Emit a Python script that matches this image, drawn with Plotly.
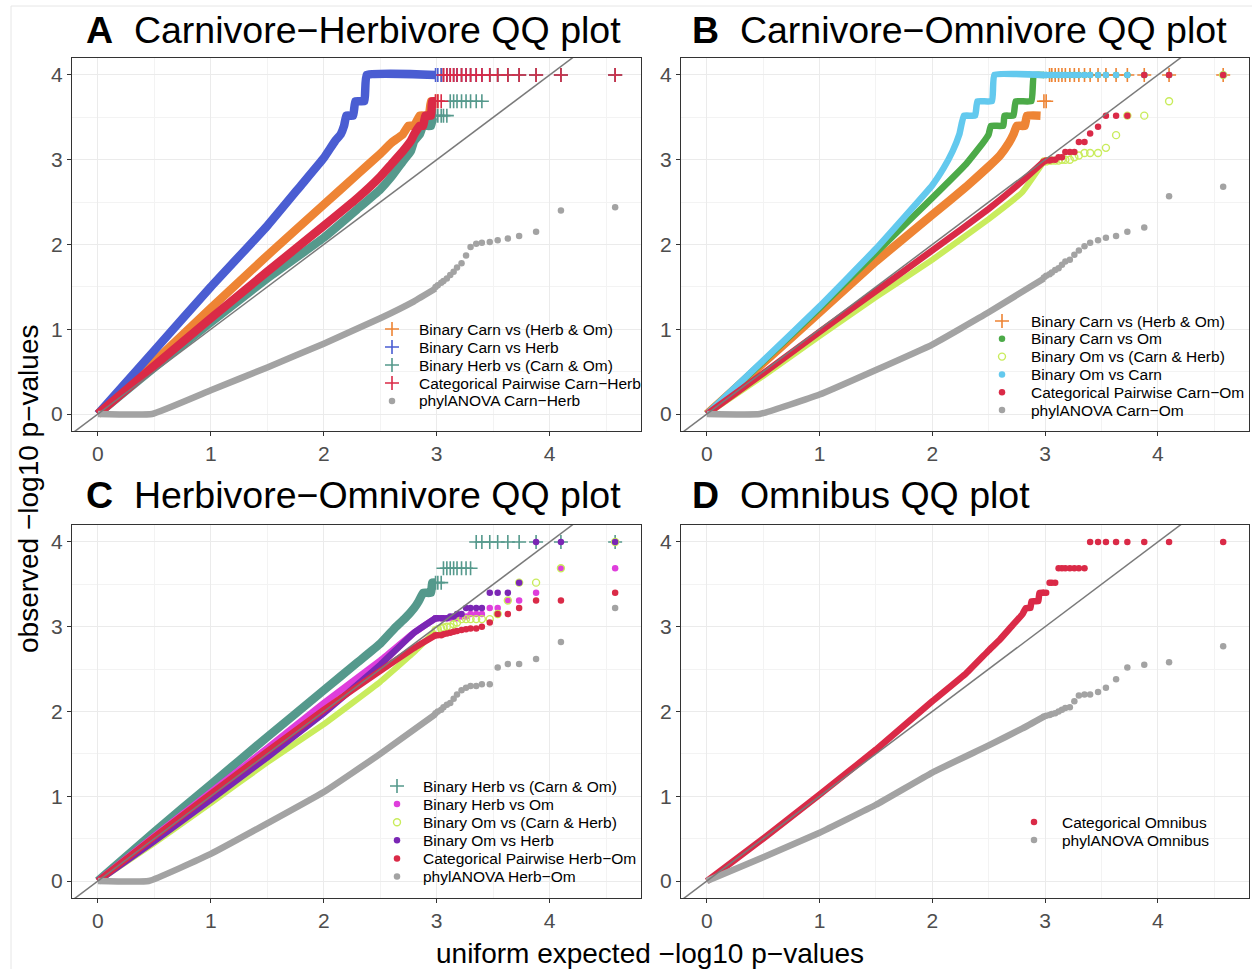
import plotly.graph_objects as go

W, H = 1252, 969
FONT = "Liberation Sans, Arial, Helvetica, sans-serif"

# Expected -log10 p-values of the highest ranks (rank 1 = most extreme)
rank_x = [4.58, 4.10, 3.88, 3.73, 3.63, 3.54, 3.47, 3.40, 3.35, 3.30,
          3.26, 3.22, 3.18, 3.15, 3.12, 3.09, 3.06, 3.04, 3.01, 2.99]

# ---------------- Panel A: Carnivore-Herbivore ----------------
A_cvho_x = [0, 0.5, 1, 1.5, 2, 2.3, 2.5, 2.6, 2.7, 2.75, 2.8, 2.85, 2.93, 2.95, 2.98]
A_cvho_y = [0, 0.62, 1.25, 1.87, 2.47, 2.83, 3.07, 3.2, 3.3, 3.4, 3.4, 3.52, 3.52, 3.69, 3.69]
A_cvho_top = [4, 4, 4, 4, 4, 4, 4, 4, 4, 4, 4, 4, 4, 4, 4, 4, 4, 4, 3.69, 3.69]

A_cvh_x = [0, 0.5, 1, 1.5, 1.8, 2.0, 2.1, 2.15, 2.18, 2.2, 2.26, 2.28, 2.36, 2.38, 2.99]
A_cvh_y = [0, 0.75, 1.5, 2.22, 2.7, 3.02, 3.22, 3.3, 3.4, 3.52, 3.52, 3.69, 3.69, 4, 4]
A_cvh_top = [4, 4, 4, 4, 4, 4, 4, 4, 4, 4, 4, 4, 4, 4, 4, 4, 4, 4, 4, 4]

A_hvco_x = [0, 0.5, 1, 1.5, 2, 2.3, 2.5, 2.6, 2.7, 2.77, 2.8, 2.85, 2.88, 2.95, 2.97, 2.99]
A_hvco_y = [0, 0.55, 1.08, 1.6, 2.08, 2.42, 2.65, 2.8, 2.98, 3.1, 3.22, 3.3, 3.4, 3.4, 3.52, 3.52]
A_hvco_top = [4, 4, 4, 4, 4, 4, 4, 3.69, 3.69, 3.69, 3.69, 3.69, 3.69, 3.69, 3.69,
              3.52, 3.52, 3.52, 3.52, 3.52]

A_cat_x = [0, 0.5, 1, 1.5, 2, 2.3, 2.5, 2.6, 2.7, 2.77, 2.8, 2.85, 2.88, 2.9, 2.95, 2.96, 2.99]
A_cat_y = [0, 0.57, 1.13, 1.68, 2.22, 2.55, 2.8, 2.95, 3.1, 3.22, 3.3, 3.4, 3.4, 3.52, 3.52, 3.69, 3.69]
A_cat_top = [4, 4, 4, 4, 4, 4, 4, 4, 4, 4, 4, 4, 4, 4, 4, 4, 4, 3.69, 3.69, 3.69]

A_phy_x = [0, 0.48, 1, 1.5, 2, 2.5, 2.8, 2.99]
A_phy_y = [0, 0, 0.28, 0.55, 0.83, 1.13, 1.33, 1.48]
A_phy_top = [2.44, 2.40, 2.15, 2.10, 2.07, 2.05, 2.03, 2.02, 2.01, 1.97,
             1.87, 1.78, 1.73, 1.68, 1.64, 1.60, 1.57, 1.55, 1.52, 1.50]

# ---------------- Panel B: Carnivore-Omnivore ----------------
B_cvho_x = [0, 0.5, 1, 1.5, 2, 2.3, 2.5, 2.6, 2.68, 2.72, 2.75, 2.82, 2.84, 2.96]
B_cvho_y = [0, 0.6, 1.2, 1.8, 2.35, 2.68, 2.92, 3.05, 3.2, 3.3, 3.4, 3.4, 3.52, 3.52]
B_cvho_top = [4, 4, 4, 4, 4, 4, 4, 4, 4, 4, 4, 4, 4, 4, 4, 4, 4, 4, 3.69, 3.69]

B_cvo_x = [0, 0.5, 1, 1.5, 2, 2.3, 2.45, 2.5, 2.52, 2.63, 2.64, 2.72, 2.74, 2.88, 2.9, 2.99]
B_cvo_y = [0, 0.62, 1.25, 1.9, 2.55, 2.95, 3.2, 3.3, 3.4, 3.4, 3.52, 3.52, 3.69, 3.69, 4, 4]
B_cvo_top = [4, 4, 4, 4, 4, 4, 4, 4, 4, 4, 4, 4, 4, 4, 4, 4, 4, 4, 4, 4]

B_ovch_x = [0, 0.5, 1, 1.5, 2, 2.5, 2.8, 2.99]
B_ovch_y = [0, 0.45, 0.92, 1.38, 1.82, 2.3, 2.62, 2.98]
B_ovch_top = [4, 3.69, 3.52, 3.52, 3.29, 3.14, 3.08, 3.08, 3.08, 3.05,
              3.03, 3.0, 3.0, 3.0, 2.99, 2.99, 2.99, 2.99, 2.98, 2.98]

B_ovc_x = [0, 0.5, 1, 1.5, 2, 2.1, 2.18, 2.24, 2.28, 2.38, 2.4, 2.53, 2.55, 2.99]
B_ovc_y = [0, 0.63, 1.27, 1.95, 2.7, 2.9, 3.1, 3.3, 3.52, 3.52, 3.69, 3.69, 4, 4]
B_ovc_top = [4, 4, 4, 4, 4, 4, 4, 4, 4, 4, 4, 4, 4, 4, 4, 4, 4, 4, 4, 4]

B_cat_x = [0, 0.5, 1, 1.5, 2, 2.5, 2.8, 2.99]
B_cat_y = [0, 0.48, 0.97, 1.45, 1.93, 2.42, 2.75, 2.98]
B_cat_top = [4, 4, 4, 3.52, 3.52, 3.52, 3.39, 3.31, 3.21, 3.21,
             3.09, 3.09, 3.09, 3.03, 3.03, 3.0, 3.0, 2.99, 2.99, 2.98]

B_phy_x = [0, 0.47, 1, 1.5, 2, 2.5, 2.99]
B_phy_y = [0, 0, 0.23, 0.52, 0.82, 1.2, 1.6]
B_phy_top = [2.68, 2.57, 2.20, 2.15, 2.10, 2.08, 2.05, 2.02, 1.98, 1.93,
             1.88, 1.82, 1.80, 1.76, 1.72, 1.70, 1.67, 1.65, 1.63, 1.61]

# ---------------- Panel C: Herbivore-Omnivore ----------------
C_hvco_x = [0, 0.5, 1, 1.5, 2, 2.3, 2.5, 2.64, 2.72, 2.8, 2.84, 2.88, 2.95, 2.96, 2.99]
C_hvco_y = [0, 0.58, 1.14, 1.7, 2.25, 2.58, 2.8, 3.0, 3.1, 3.22, 3.3, 3.4, 3.4, 3.52, 3.52]
C_hvco_top = [4, 4, 4, 4, 4, 4, 4, 4, 4, 3.69, 3.69, 3.69, 3.69, 3.69, 3.69, 3.69, 3.69,
              3.52, 3.52, 3.52]

C_hvo_x = [0, 0.5, 1, 1.5, 2, 2.5, 2.8, 2.99]
C_hvo_y = [0, 0.53, 1.05, 1.57, 2.1, 2.6, 2.93, 3.1]
C_hvo_top = [3.69, 3.69, 3.4, 3.31, 3.31, 3.22, 3.22, 3.15, 3.15, 3.15,
             3.12, 3.12, 3.1, 3.1, 3.1, 3.1, 3.1, 3.1, 3.1, 3.1]

C_ovch_x = [0, 0.5, 1, 1.5, 2, 2.5, 2.8, 2.99]
C_ovch_y = [0, 0.45, 0.92, 1.4, 1.85, 2.35, 2.7, 2.95]
C_ovch_top = [4, 3.69, 3.52, 3.52, 3.31, 3.15, 3.09, 3.09, 3.09, 3.09,
              3.09, 3.09, 3.05, 3.03, 3.0, 3.0, 2.99, 2.98, 2.97, 2.96]

C_ovh_x = [0, 0.5, 1, 1.5, 2, 2.5, 2.8, 2.99]
C_ovh_y = [0, 0.47, 0.96, 1.46, 1.98, 2.55, 2.93, 3.1]
C_ovh_top = [4, 4, 4, 3.52, 3.4, 3.4, 3.4, 3.22, 3.22, 3.22,
             3.22, 3.15, 3.15, 3.12, 3.12, 3.1, 3.1, 3.1, 3.1, 3.1]

C_cat_x = [0, 0.5, 1, 1.5, 2, 2.5, 2.8, 2.99]
C_cat_y = [0, 0.52, 1.03, 1.53, 2.02, 2.48, 2.75, 2.9]
C_cat_top = [3.4, 3.31, 3.31, 3.22, 3.15, 3.15, 3.05, 3.0, 2.98, 2.98,
             2.97, 2.96, 2.95, 2.94, 2.93, 2.92, 2.91, 2.9, 2.9, 2.9]

C_phy_x = [0, 0.45, 1, 1.5, 2, 2.5, 2.99]
C_phy_y = [0, 0, 0.32, 0.68, 1.05, 1.5, 1.97]
C_phy_top = [3.22, 2.82, 2.62, 2.56, 2.56, 2.52, 2.32, 2.32, 2.30, 2.30,
             2.28, 2.25, 2.20, 2.15, 2.10, 2.08, 2.05, 2.02, 2.00, 1.98]

# ---------------- Panel D: Omnibus ----------------
D_cat_x = [0, 0.5, 1, 1.5, 2, 2.3, 2.5, 2.6, 2.7, 2.8, 2.83, 2.87, 2.88, 2.94, 2.95, 2.99]
D_cat_y = [0, 0.5, 1.02, 1.55, 2.12, 2.45, 2.72, 2.85, 3.0, 3.15, 3.22, 3.22, 3.3, 3.3, 3.4, 3.4]
D_cat_top = [4, 4, 4, 4, 4, 4, 4, 4, 3.69, 3.69, 3.69, 3.69, 3.69, 3.69, 3.69,
             3.52, 3.52, 3.52, 3.4, 3.4]

D_phy_x = [0, 0.5, 1, 1.5, 2, 2.5, 2.8, 2.99]
D_phy_y = [0, 0.28, 0.57, 0.9, 1.28, 1.6, 1.8, 1.94]
D_phy_top = [2.77, 2.58, 2.55, 2.52, 2.38, 2.28, 2.23, 2.20, 2.20, 2.19,
             2.12, 2.05, 2.04, 2.02, 2.00, 1.98, 1.97, 1.96, 1.95, 1.94]

# ---------------- styles ----------------
ORANGE, BLUE, TEAL, RED, GRAY = "#EE8434", "#4A5DD2", "#55998C", "#DA2A47", "#A3A3A3"
GREEN, LIME, SKY, MAGENTA, PURPLE = "#4CAA48", "#C9EC5C", "#63C9EE", "#DF3EDC", "#7A26B4"

PLUS, DOT, RING = "plus", "dot", "ring"

panels = {
    "A": dict(title="Carnivore\u2212Herbivore QQ plot", series=[
        ("Binary Carn vs (Herb & Om)", ORANGE, PLUS, A_cvho_x, A_cvho_y, A_cvho_top),
        ("Binary Carn vs Herb", BLUE, PLUS, A_cvh_x, A_cvh_y, A_cvh_top),
        ("Binary Herb vs (Carn & Om)", TEAL, PLUS, A_hvco_x, A_hvco_y, A_hvco_top),
        ("Categorical Pairwise Carn\u2212Herb", RED, PLUS, A_cat_x, A_cat_y, A_cat_top),
        ("phylANOVA Carn\u2212Herb", GRAY, DOT, A_phy_x, A_phy_y, A_phy_top),
    ]),
    "B": dict(title="Carnivore\u2212Omnivore QQ plot", series=[
        ("Binary Carn vs (Herb & Om)", ORANGE, PLUS, B_cvho_x, B_cvho_y, B_cvho_top),
        ("Binary Carn vs Om", GREEN, DOT, B_cvo_x, B_cvo_y, B_cvo_top),
        ("Binary Om vs (Carn & Herb)", LIME, RING, B_ovch_x, B_ovch_y, B_ovch_top),
        ("Binary Om vs Carn", SKY, DOT, B_ovc_x, B_ovc_y, B_ovc_top),
        ("Categorical Pairwise Carn\u2212Om", RED, DOT, B_cat_x, B_cat_y, B_cat_top),
        ("phylANOVA Carn\u2212Om", GRAY, DOT, B_phy_x, B_phy_y, B_phy_top),
    ]),
    "C": dict(title="Herbivore\u2212Omnivore QQ plot", series=[
        ("Binary Herb vs (Carn & Om)", TEAL, PLUS, C_hvco_x, C_hvco_y, C_hvco_top),
        ("Binary Herb vs Om", MAGENTA, DOT, C_hvo_x, C_hvo_y, C_hvo_top),
        ("Binary Om vs (Carn & Herb)", LIME, RING, C_ovch_x, C_ovch_y, C_ovch_top),
        ("Binary Om vs Herb", PURPLE, DOT, C_ovh_x, C_ovh_y, C_ovh_top),
        ("Categorical Pairwise Herb\u2212Om", RED, DOT, C_cat_x, C_cat_y, C_cat_top),
        ("phylANOVA Herb\u2212Om", GRAY, DOT, C_phy_x, C_phy_y, C_phy_top),
    ]),
    "D": dict(title="Omnibus QQ plot", series=[
        ("Categorical Omnibus", RED, DOT, D_cat_x, D_cat_y, D_cat_top),
        ("phylANOVA Omnibus", GRAY, DOT, D_phy_x, D_phy_y, D_phy_top),
    ]),
}

# panel boxes in pixels: left, right, top, bottom
boxes = {"A": (72, 641, 58, 431), "B": (681, 1249, 58, 431),
         "C": (72, 641, 525, 898), "D": (681, 1249, 525, 898)}
axis_ids = {"A": ("x", "y"), "B": ("x2", "y2"), "C": ("x3", "y3"), "D": ("x4", "y4")}
title_pos = {"A": (84, 30), "B": (690, 30), "C": (84, 495), "D": (690, 495)}
# legend: key x, text x, first row y, row step
legend_pos = {"A": (392, 417, 329, 18.0), "B": (1002, 1029, 321, 17.8),
              "C": (397, 421, 786, 18.1), "D": (1034, 1060, 822, 18.0)}

X_RANGE = [-0.229, 4.809]
Y_RANGE = [-0.2, 4.2]


def marker_style(color, kind):
    if kind == PLUS:
        return dict(symbol="cross-thin", size=10, color=color, line=dict(color=color, width=1.6))
    if kind == RING:
        return dict(symbol="circle-open", size=7, color=color, line=dict(color=color, width=1.4))
    return dict(symbol="circle", size=6.5, color=color, line=dict(width=0))


fig = go.Figure()
annotations = []

for key, panel in panels.items():
    xa, ya = axis_ids[key]
    for name, color, kind, bx, by, top in panel["series"]:
        band = 8.5 if kind == PLUS else (6.5 if kind == DOT else 6)
        fig.add_trace(go.Scatter(x=bx, y=by, xaxis=xa, yaxis=ya, mode="lines",
                                 line=dict(color=color, width=band, shape="spline",
                                           smoothing=0.3),
                                 showlegend=False, hoverinfo="skip"))
        fig.add_trace(go.Scatter(x=rank_x, y=top, xaxis=xa, yaxis=ya, mode="markers",
                                 marker=marker_style(color, kind), showlegend=False,
                                 name=name))
    # y = x reference line
    fig.add_trace(go.Scatter(x=X_RANGE, y=X_RANGE, xaxis=xa, yaxis=ya, mode="lines",
                             line=dict(color="#7A7A7A", width=1.5), showlegend=False,
                             hoverinfo="skip"))

    # legend keys (pixel overlay) and labels
    kx, tx, y0, step = legend_pos[key]
    keys_y = [y0 + i * step for i in range(len(panel["series"]))]
    for (name, color, kind, *_), ky in zip(panel["series"], keys_y):
        fig.add_trace(go.Scatter(x=[kx], y=[ky], xaxis="x5", yaxis="y5", mode="markers",
                                 marker=marker_style(color, kind), showlegend=False,
                                 hoverinfo="skip"))
        annotations.append(dict(x=tx / W, y=1 - ky / H, xref="paper", yref="paper",
                                text=name, showarrow=False, xanchor="left", yanchor="middle",
                                font=dict(family=FONT, size=15.5, color="#000000")))

    px, py = title_pos[key]
    annotations.append(dict(x=px / W, y=1 - py / H, xref="paper", yref="paper",
                            text=f"<b>{key}</b>\u00a0\u00a0{panel['title']}", showarrow=False,
                            xanchor="left", yanchor="middle",
                            font=dict(family=FONT, size=37.5, color="#000000")))

annotations.append(dict(x=649.5 / W, y=1 - 953 / H, xref="paper", yref="paper",
                        text="uniform expected \u2212log10 p\u2212values", showarrow=False,
                        xanchor="center", yanchor="middle",
                        font=dict(family=FONT, size=28, color="#000000")))
annotations.append(dict(x=28 / W, y=1 - 489 / H, xref="paper", yref="paper",
                        text="observed \u2212log10 p\u2212values", showarrow=False, textangle=-90,
                        xanchor="center", yanchor="middle",
                        font=dict(family=FONT, size=28, color="#000000")))

layout = dict(width=W, height=H, margin=dict(l=0, r=0, t=0, b=0),
              paper_bgcolor="white", plot_bgcolor="rgba(0,0,0,0)", showlegend=False,
              annotations=annotations,
              shapes=[dict(type="rect", xref="paper", yref="paper",
                           x0=11 / W, x1=1.01, y0=-0.01, y1=1 - 6 / H,
                           line=dict(color="#E6E6E6", width=1), layer="below")])

axis_common = dict(showline=True, mirror=True, linecolor="#333333", linewidth=1,
                   ticks="outside", ticklen=4, tickcolor="#333333", tickwidth=1,
                   tickfont=dict(family=FONT, size=21, color="#4D4D4D"),
                   showgrid=True, gridcolor="#EBEBEB", gridwidth=1.2, zeroline=False,
                   tickvals=[0, 1, 2, 3, 4], automargin=False,
                   minor=dict(tickvals=[0.5, 1.5, 2.5, 3.5, 4.5], showgrid=True,
                              gridcolor="#F3F3F3", gridwidth=0.8, ticks=""))

for key, (l, r, t, b) in boxes.items():
    xa, ya = axis_ids[key]
    xname = "xaxis" + xa[1:]
    yname = "yaxis" + ya[1:]
    layout[xname] = dict(axis_common, domain=[l / W, r / W], range=X_RANGE, anchor=ya)
    layout[yname] = dict(axis_common, domain=[1 - b / H, 1 - t / H], range=Y_RANGE, anchor=xa)

# full-page pixel overlay used for the legend keys
layout["xaxis5"] = dict(domain=[0, 1], range=[0, W], visible=False, anchor="y5", fixedrange=True)
layout["yaxis5"] = dict(domain=[0, 1], range=[H, 0], visible=False, anchor="x5", fixedrange=True)

fig.update_layout(layout)
fig.write_html("out.html")
